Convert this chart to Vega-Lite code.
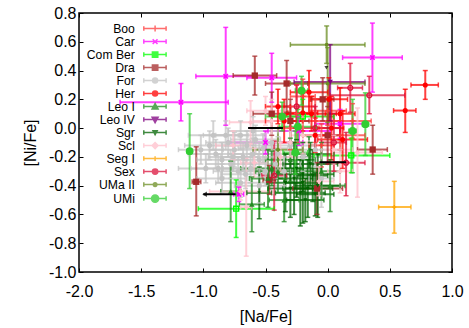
{
"$schema": "https://vega.github.io/schema/vega-lite/v6.json",
"width": 373, "height": 259,
"autosize": "none",
"padding": {"left": 79, "top": 13, "right": 17, "bottom": 56},
"background": "white",
"config": {"view": {"stroke": "#000", "strokeWidth": 1.5}, "font": "Liberation Sans"},
"data": {"values": [
{"g":"Boo","x":-0.2,"y":0.22,"xl":-0.3,"xh":-0.1,"yl":0.1,"yh":0.34},
{"g":"Boo","x":-0.1,"y":0.05,"xl":-0.3,"xh":0.1,"yl":-0.1,"yh":0.2},
{"g":"Boo","x":0.0,"y":0.12,"xl":-0.15,"xh":0.15,"yl":0.02,"yh":0.22},
{"g":"Boo","x":-0.3,"y":0.0,"xl":-0.4,"xh":-0.2,"yl":-0.15,"yh":0.15},
{"g":"Boo","x":0.1,"y":-0.05,"xl":-0.1,"xh":0.3,"yl":-0.15,"yh":0.05},
{"g":"Boo","x":-0.05,"y":-0.12,"xl":-0.15,"xh":0.05,"yl":-0.27,"yh":0.03},
{"g":"Boo","x":0.2,"y":0.05,"xl":0.05,"xh":0.35,"yl":-0.07,"yh":0.17},
{"g":"Boo","x":-0.25,"y":0.1,"xl":-0.4,"xh":-0.1,"yl":-0.1,"yh":0.3},
{"g":"Car","x":-0.82,"y":0.36,"xl":-1.06,"xh":-0.58,"yl":0.02,"yh":0.7},
{"g":"Car","x":-0.45,"y":0.35,"xl":-0.65,"xh":-0.25,"yl":0.18,"yh":0.52},
{"g":"Car","x":-1.18,"y":0.18,"xl":-1.67,"xh":-0.8,"yl":0.05,"yh":0.31},
{"g":"Car","x":0.36,"y":0.49,"xl":0.12,"xh":0.6,"yl":0.25,"yh":0.73},
{"g":"Car","x":-0.715,"y":-0.46,"xl":-0.755,"xh":-0.675,"yl":-0.51,"yh":-0.41},
{"g":"Car","x":-0.23,"y":-0.02,"xl":-0.48,"xh":0.02,"yl":-0.12,"yh":0.08},
{"g":"Car","x":-0.5,"y":-0.1,"xl":-0.8,"xh":-0.2,"yl":-0.18,"yh":-0.02},
{"g":"Car","x":0.1,"y":0.03,"xl":-0.1,"xh":0.3,"yl":-0.07,"yh":0.13},
{"g":"Com Ber","x":-0.736,"y":-0.56,"xl":-1.04,"xh":-0.43,"yl":-0.76,"yh":-0.36},
{"g":"Com Ber","x":0.19,"y":-0.19,"xl":-0.11,"xh":0.5,"yl":-0.31,"yh":-0.07},
{"g":"Com Ber","x":-0.2,"y":0.08,"xl":-0.45,"xh":0.05,"yl":-0.05,"yh":0.2},
{"g":"Dra","x":-0.586,"y":0.365,"xl":-0.76,"xh":-0.41,"yl":0.23,"yh":0.5},
{"g":"Dra","x":-0.33,"y":0.31,"xl":-0.5,"xh":-0.16,"yl":0.11,"yh":0.47},
{"g":"Dra","x":-1.057,"y":-0.373,"xl":-1.09,"xh":-1.02,"yl":-0.61,"yh":-0.13},
{"g":"Dra","x":0.362,"y":-0.149,"xl":0.24,"xh":0.48,"yl":-0.32,"yh":0.02},
{"g":"Dra","x":-0.04,"y":0.2,"xl":-0.13,"xh":0.05,"yl":0.05,"yh":0.35},
{"g":"Dra","x":-0.3,"y":0.05,"xl":-0.45,"xh":-0.15,"yl":-0.1,"yh":0.2},
{"g":"Dra","x":-0.47,"y":-0.36,"xl":-0.52,"xh":-0.42,"yl":-0.46,"yh":-0.26},
{"g":"Dra","x":-0.085,"y":-0.42,"xl":-0.28,"xh":0.12,"yl":-0.6,"yh":-0.24},
{"g":"Dra","x":-0.45,"y":0.1,"xl":-0.6,"xh":-0.3,"yl":-0.05,"yh":0.25},
{"g":"Dra","x":0.0,"y":-0.05,"xl":-0.1,"xh":0.1,"yl":-0.25,"yh":0.15},
{"g":"For","x":-0.95,"y":-0.12,"xl":-1.15,"xh":-0.75,"yl":-0.22,"yh":-0.02},
{"g":"For","x":-0.9,"y":-0.18,"xl":-1.12,"xh":-0.68,"yl":-0.28,"yh":-0.08},
{"g":"For","x":-0.85,"y":-0.22,"xl":-1.05,"xh":-0.65,"yl":-0.34,"yh":-0.1},
{"g":"For","x":-0.8,"y":-0.1,"xl":-0.98,"xh":-0.62,"yl":-0.2,"yh":0.0},
{"g":"For","x":-0.78,"y":-0.25,"xl":-0.98,"xh":-0.58,"yl":-0.35,"yh":-0.15},
{"g":"For","x":-0.75,"y":-0.15,"xl":-0.95,"xh":-0.55,"yl":-0.27,"yh":-0.03},
{"g":"For","x":-0.72,"y":-0.3,"xl":-0.92,"xh":-0.52,"yl":-0.4,"yh":-0.2},
{"g":"For","x":-0.7,"y":-0.05,"xl":-0.9,"xh":-0.5,"yl":-0.15,"yh":0.05},
{"g":"For","x":-0.68,"y":-0.2,"xl":-0.86,"xh":-0.5,"yl":-0.3,"yh":-0.1},
{"g":"For","x":-0.65,"y":-0.12,"xl":-0.85,"xh":-0.45,"yl":-0.22,"yh":-0.02},
{"g":"For","x":-0.62,"y":-0.28,"xl":-0.84,"xh":-0.4,"yl":-0.38,"yh":-0.18},
{"g":"For","x":-0.6,"y":-0.18,"xl":-0.8,"xh":-0.4,"yl":-0.29,"yh":-0.07},
{"g":"For","x":-0.58,"y":-0.08,"xl":-0.78,"xh":-0.38,"yl":-0.18,"yh":0.02},
{"g":"For","x":-0.55,"y":-0.22,"xl":-0.75,"xh":-0.35,"yl":-0.34,"yh":-0.1},
{"g":"For","x":-0.52,"y":-0.14,"xl":-0.72,"xh":-0.32,"yl":-0.24,"yh":-0.04},
{"g":"For","x":-0.5,"y":-0.3,"xl":-0.7,"xh":-0.3,"yl":-0.4,"yh":-0.2},
{"g":"For","x":-0.88,"y":-0.28,"xl":-1.1,"xh":-0.66,"yl":-0.38,"yh":-0.18},
{"g":"For","x":-0.98,"y":-0.28,"xl":-1.2,"xh":-0.76,"yl":-0.38,"yh":-0.18},
{"g":"For","x":-0.82,"y":-0.05,"xl":-1.0,"xh":-0.64,"yl":-0.15,"yh":0.05},
{"g":"For","x":-0.7,"y":-0.38,"xl":-0.9,"xh":-0.5,"yl":-0.48,"yh":-0.28},
{"g":"For","x":-0.45,"y":-0.1,"xl":-0.65,"xh":-0.25,"yl":-0.2,"yh":0.0},
{"g":"For","x":-0.42,"y":-0.25,"xl":-0.62,"xh":-0.22,"yl":-0.35,"yh":-0.15},
{"g":"For","x":-0.4,"y":-0.18,"xl":-0.62,"xh":-0.18,"yl":-0.3,"yh":-0.06},
{"g":"For","x":-0.92,"y":-0.05,"xl":-1.12,"xh":-0.72,"yl":-0.15,"yh":0.05},
{"g":"For","x":-0.76,"y":-0.2,"xl":-0.96,"xh":-0.56,"yl":-0.3,"yh":-0.1},
{"g":"For","x":-0.66,"y":-0.32,"xl":-0.86,"xh":-0.46,"yl":-0.42,"yh":-0.22},
{"g":"For","x":-0.6,"y":-0.02,"xl":-0.8,"xh":-0.4,"yl":-0.12,"yh":0.08},
{"g":"For","x":-0.35,"y":-0.3,"xl":-0.55,"xh":-0.15,"yl":-0.4,"yh":-0.2},
{"g":"For","x":-0.05,"y":-0.35,"xl":-0.15,"xh":0.05,"yl":-0.55,"yh":-0.15},
{"g":"For","x":-0.3,"y":-0.12,"xl":-0.5,"xh":-0.1,"yl":-0.22,"yh":-0.02},
{"g":"For","x":-1.02,"y":-0.15,"xl":-1.2,"xh":-0.84,"yl":-0.25,"yh":-0.05},
{"g":"For","x":-0.85,"y":-0.35,"xl":-1.05,"xh":-0.65,"yl":-0.45,"yh":-0.25},
{"g":"For","x":-0.2,"y":-0.2,"xl":-0.35,"xh":-0.05,"yl":-0.3,"yh":-0.1},
{"g":"For","x":-0.1,"y":-0.15,"xl":-0.3,"xh":0.1,"yl":-0.27,"yh":-0.03},
{"g":"For","x":-0.55,"y":-0.4,"xl":-0.75,"xh":-0.35,"yl":-0.52,"yh":-0.28},
{"g":"Her","x":0.785,"y":0.3,"xl":0.67,"xh":0.89,"yl":0.2,"yh":0.4},
{"g":"Her","x":0.624,"y":0.122,"xl":0.53,"xh":0.71,"yl":-0.03,"yh":0.27},
{"g":"Her","x":-0.2,"y":0.106,"xl":-0.32,"xh":-0.08,"yl":-0.02,"yh":0.24},
{"g":"Her","x":0.01,"y":0.2,"xl":-0.14,"xh":0.16,"yl":0.05,"yh":0.35},
{"g":"Her","x":-0.13,"y":0.1,"xl":-0.33,"xh":0.07,"yl":-0.02,"yh":0.22},
{"g":"Her","x":0.03,"y":0.0,"xl":-0.07,"xh":0.13,"yl":-0.22,"yh":0.22},
{"g":"Her","x":-0.35,"y":0.05,"xl":-0.5,"xh":-0.2,"yl":-0.1,"yh":0.2},
{"g":"Her","x":-0.1,"y":-0.05,"xl":-0.2,"xh":0.0,"yl":-0.17,"yh":0.07},
{"g":"Her","x":0.1,"y":0.1,"xl":-0.02,"xh":0.22,"yl":-0.08,"yh":0.28},
{"g":"Her","x":-0.4,"y":0.15,"xl":-0.5,"xh":-0.3,"yl":0.03,"yh":0.27},
{"g":"Her","x":-0.15,"y":0.25,"xl":-0.3,"xh":0.0,"yl":0.1,"yh":0.4},
{"g":"Her","x":0.12,"y":-0.08,"xl":-0.08,"xh":0.32,"yl":-0.28,"yh":0.12},
{"g":"Leo I","x":-0.78,"y":-0.44,"xl":-0.86,"xh":-0.7,"yl":-0.65,"yh":-0.23},
{"g":"Leo I","x":-0.61,"y":-0.53,"xl":-0.71,"xh":-0.51,"yl":-0.72,"yh":-0.34},
{"g":"Leo I","x":-0.48,"y":-0.35,"xl":-0.63,"xh":-0.33,"yl":-0.55,"yh":-0.15},
{"g":"Leo I","x":-0.4,"y":-0.3,"xl":-0.58,"xh":-0.22,"yl":-0.45,"yh":-0.15},
{"g":"Leo I","x":-0.3,"y":-0.22,"xl":-0.5,"xh":-0.1,"yl":-0.37,"yh":-0.07},
{"g":"Leo I","x":-0.05,"y":-0.3,"xl":-0.2,"xh":0.1,"yl":-0.5,"yh":-0.1},
{"g":"Leo I","x":-0.15,"y":-0.18,"xl":-0.35,"xh":0.05,"yl":-0.3,"yh":-0.06},
{"g":"Leo I","x":0.02,"y":-0.4,"xl":-0.1,"xh":0.14,"yl":-0.58,"yh":-0.22},
{"g":"Leo I","x":-0.35,"y":-0.5,"xl":-0.47,"xh":-0.23,"yl":-0.65,"yh":-0.35},
{"g":"Leo I","x":-0.45,"y":-0.28,"xl":-0.7,"xh":-0.2,"yl":-0.4,"yh":-0.16},
{"g":"Leo IV","x":0.02,"y":0.32,"xl":-0.27,"xh":0.3,"yl":0.05,"yh":0.58},
{"g":"Sgr","x":-0.34,"y":-0.38,"xl":-0.49,"xh":-0.19,"yl":-0.58,"yh":-0.18},
{"g":"Sgr","x":-0.3,"y":-0.42,"xl":-0.48,"xh":-0.12,"yl":-0.62,"yh":-0.22},
{"g":"Sgr","x":-0.27,"y":-0.35,"xl":-0.42,"xh":-0.12,"yl":-0.6,"yh":-0.1},
{"g":"Sgr","x":-0.22,"y":-0.45,"xl":-0.42,"xh":-0.02,"yl":-0.68,"yh":-0.22},
{"g":"Sgr","x":-0.2,"y":-0.38,"xl":-0.35,"xh":-0.05,"yl":-0.66,"yh":-0.1},
{"g":"Sgr","x":-0.18,"y":-0.5,"xl":-0.33,"xh":-0.03,"yl":-0.65,"yh":-0.35},
{"g":"Sgr","x":-0.16,"y":-0.42,"xl":-0.36,"xh":0.04,"yl":-0.62,"yh":-0.22},
{"g":"Sgr","x":-0.12,"y":-0.33,"xl":-0.24,"xh":0.0,"yl":-0.51,"yh":-0.15},
{"g":"Sgr","x":-0.1,"y":-0.46,"xl":-0.25,"xh":0.05,"yl":-0.61,"yh":-0.31},
{"g":"Sgr","x":-0.08,"y":-0.4,"xl":-0.26,"xh":0.1,"yl":-0.62,"yh":-0.18},
{"g":"Sgr","x":-0.25,"y":-0.28,"xl":-0.45,"xh":-0.05,"yl":-0.48,"yh":-0.08},
{"g":"Sgr","x":-0.55,"y":-0.45,"xl":-0.65,"xh":-0.45,"yl":-0.63,"yh":-0.27},
{"g":"Sgr","x":-0.14,"y":-0.25,"xl":-0.36,"xh":0.08,"yl":-0.4,"yh":-0.1},
{"g":"Sgr","x":-0.2,"y":-0.32,"xl":-0.45,"xh":0.05,"yl":-0.44,"yh":-0.2},
{"g":"Scl","x":-0.76,"y":-0.12,"xl":-0.9,"xh":-0.62,"yl":-0.22,"yh":-0.02},
{"g":"Scl","x":-0.62,"y":0.04,"xl":-0.79,"xh":-0.45,"yl":-0.11,"yh":0.19},
{"g":"Scl","x":-0.59,"y":-0.24,"xl":-0.7,"xh":-0.48,"yl":-0.34,"yh":-0.14},
{"g":"Scl","x":-0.655,"y":-0.55,"xl":-0.7,"xh":-0.61,"yl":-0.89,"yh":-0.21},
{"g":"Scl","x":-0.7,"y":-0.44,"xl":-0.95,"xh":-0.44,"yl":-0.5,"yh":-0.38},
{"g":"Scl","x":0.24,"y":-0.17,"xl":0.04,"xh":0.44,"yl":-0.48,"yh":0.14},
{"g":"Scl","x":-0.07,"y":-0.37,"xl":-0.19,"xh":0.05,"yl":-0.47,"yh":-0.27},
{"g":"Scl","x":-0.45,"y":0.05,"xl":-0.6,"xh":-0.3,"yl":-0.1,"yh":0.2},
{"g":"Scl","x":-0.3,"y":-0.1,"xl":-0.45,"xh":-0.15,"yl":-0.2,"yh":0.0},
{"g":"Scl","x":-0.2,"y":-0.05,"xl":-0.3,"xh":-0.05,"yl":-0.18,"yh":0.1},
{"g":"Scl","x":0.05,"y":-0.15,"xl":-0.05,"xh":0.2,"yl":-0.25,"yh":-0.05},
{"g":"Scl","x":-0.38,"y":-0.2,"xl":-0.5,"xh":-0.26,"yl":-0.3,"yh":-0.1},
{"g":"Scl","x":0.1,"y":-0.3,"xl":0.0,"xh":0.2,"yl":-0.45,"yh":-0.15},
{"g":"Scl","x":-0.5,"y":0.12,"xl":-0.65,"xh":-0.35,"yl":0.02,"yh":0.22},
{"g":"Seg I","x":0.536,"y":-0.549,"xl":0.41,"xh":0.67,"yl":-0.73,"yh":-0.37},
{"g":"Sex","x":0.182,"y":0.28,"xl":0.08,"xh":0.28,"yl":0.11,"yh":0.45},
{"g":"Sex","x":0.335,"y":0.228,"xl":0.02,"xh":0.62,"yl":0.1,"yh":0.36},
{"g":"Sex","x":0.148,"y":-0.24,"xl":0.0,"xh":0.3,"yl":-0.47,"yh":-0.03},
{"g":"Sex","x":-0.43,"y":-0.33,"xl":-0.53,"xh":-0.33,"yl":-0.57,"yh":-0.09},
{"g":"Sex","x":-0.1,"y":0.0,"xl":-0.3,"xh":0.1,"yl":-0.15,"yh":0.15},
{"g":"Sex","x":0.05,"y":-0.1,"xl":-0.05,"xh":0.15,"yl":-0.3,"yh":0.1},
{"g":"Sex","x":-0.25,"y":0.15,"xl":-0.4,"xh":-0.1,"yl":0.0,"yh":0.3},
{"g":"UMa II","x":-0.008,"y":0.58,"xl":-0.3,"xh":0.3,"yl":0.45,"yh":0.71},
{"g":"UMa II","x":0.0,"y":0.31,"xl":-0.3,"xh":0.3,"yl":0.04,"yh":0.56},
{"g":"UMa II","x":-0.4,"y":-0.15,"xl":-0.6,"xh":-0.2,"yl":-0.3,"yh":0.0},
{"g":"UMi","x":-1.11,"y":-0.16,"xl":-1.13,"xh":-1.09,"yl":-0.42,"yh":0.1},
{"g":"UMi","x":0.303,"y":0.027,"xl":0.28,"xh":0.33,"yl":-0.19,"yh":0.245},
{"g":"UMi","x":0.2,"y":-0.02,"xl":0.17,"xh":0.23,"yl":-0.31,"yh":0.2},
{"g":"UMi","x":-0.21,"y":0.26,"xl":-0.26,"xh":-0.16,"yl":0.16,"yh":0.36},
{"g":"UMi","x":-0.366,"y":0.08,"xl":-0.5,"xh":-0.23,"yl":-0.02,"yh":0.18},
{"g":"UMi","x":-0.24,"y":0.01,"xl":-0.39,"xh":-0.09,"yl":-0.11,"yh":0.13},
{"g":"UMi","x":-0.26,"y":-0.17,"xl":-0.36,"xh":-0.16,"yl":-0.32,"yh":-0.02}
]},
"encoding": {
  "color": {"field": "g", "type": "nominal",
    "scale": {"domain": ["Boo","Car","Com Ber","Dra","For","Her","Leo I","Leo IV","Sgr","Scl","Seg I","Sex","UMa II","UMi"],
              "range": ["#ff3b3b","#ff00ff","#00ff00","#a52a2a","#c4c4c4","#ff0000","#228b22","#800080","#006400","#ffc0cb","#ffa500","#dc143c","#6b8e23","#32cd32"]},
    "legend": {"orient": "none", "legendX": 1, "legendY": 9.5, "title": null, "padding": 0, "offset": 0,
      "labelAlign": "right", "labelOffset": 42.7, "labelFont": "Liberation Sans", "labelFontSize": 12.2, "labelColor": "#000",
      "symbolSize": 100, "rowPadding": 0, "labelLimit": 200,
      "symbolType": {"expr": "['M-1,0L-1,0M11.54,0H16M11.54,-0.45V0.45M16,-0.45V0.45M13.2,0H14.4M13.8,-0.6V0.6','M-1,0L-1,0M11.54,0H16M11.54,-0.45V0.45M16,-0.45V0.45M13.32,-0.48L14.28,0.48M13.32,0.48L14.28,-0.48','M-1,0L-1,0M11.54,0H16M11.54,-0.45V0.45M16,-0.45V0.45M13.26,-0.54H14.34V0.54H13.26ZM13.5,-0.3V0.3H14.1V-0.3Z','M-1,0L-1,0M11.54,0H16M11.54,-0.45V0.45M16,-0.45V0.45M13.26,-0.54H14.34V0.54H13.26Z','M-1,0L-1,0M11.54,0H16M11.54,-0.45V0.45M16,-0.45V0.45M13.3,0A0.5,0.5 0 1,0 14.3,0A0.5,0.5 0 1,0 13.3,0Z','M-1,0L-1,0M11.54,0H16M11.54,-0.45V0.45M16,-0.45V0.45M13.3,0A0.5,0.5 0 1,0 14.3,0A0.5,0.5 0 1,0 13.3,0Z','M-1,0L-1,0M11.54,0H16M11.54,-0.45V0.45M16,-0.45V0.45M13.8,-0.6L14.4,0.48H13.2Z','M-1,0L-1,0M11.54,0H16M11.54,-0.45V0.45M16,-0.45V0.45M13.8,0.6L14.4,-0.48H13.2Z','M-1,0L-1,0M11.54,0H16M11.54,-0.45V0.45M16,-0.45V0.45M13.8,0.42L14.22,-0.36H13.38Z','M-1,0L-1,0M11.54,0H16M11.54,-0.45V0.45M16,-0.45V0.45M13.8,-0.6L14.4,0L13.8,0.6L13.2,0Z','M-1,0L-1,0M11.54,0H16M11.54,-0.45V0.45M16,-0.45V0.45M13.32,0H14.28M13.8,-0.48V0.48','M-1,0L-1,0M11.54,0H16M11.54,-0.45V0.45M16,-0.45V0.45M13.26,0A0.54,0.54 0 1,0 14.34,0A0.54,0.54 0 1,0 13.26,0ZM13.5,0A0.3,0.3 0 1,1 14.1,0A0.3,0.3 0 1,1 13.5,0Z','M-1,0L-1,0M11.54,0H16M11.54,-0.45V0.45M16,-0.45V0.45M13.44,0A0.36,0.36 0 1,0 14.16,0A0.36,0.36 0 1,0 13.44,0Z','M-1,0L-1,0M11.54,0H16M11.54,-0.45V0.45M16,-0.45V0.45M13.08,0A0.72,0.72 0 1,0 14.52,0A0.72,0.72 0 1,0 13.08,0Z'][indexof(['Boo','Car','Com Ber','Dra','For','Her','Leo I','Leo IV','Sgr','Scl','Seg I','Sex','UMa II','UMi'], datum.value)]"},
      "symbolStrokeWidth": 1.5,
      "symbolFillColor": {"expr": "scale('color', datum.value)"},
      "symbolStrokeColor": {"expr": "scale('color', datum.value)"}
    }
  }
},
"layer": [
  {"mark": {"type": "rule", "strokeWidth": 2, "opacity": 0.75},
   "encoding": {
     "x": {"field": "xl", "type": "quantitative", "scale": {"domain": [-2, 1], "nice": false, "zero": false},
       "axis": {"orient": "bottom", "values": [-2,-1.5,-1,-0.5,0,0.5,1], "labelExpr": "replace(format(datum.value, '.1f'), '\u2212', '-')",
         "tickSize": -4, "tickColor": "#000", "domain": false, "grid": false, "labelFont": "Liberation Sans", "labelFontSize": 16, "labelColor": "#000",
         "labelPadding": 15, "labelFlush": false, "labelOverlap": false, "labelBound": false,
         "title": "[Na/Fe]", "titleFont": "Liberation Sans", "titleFontSize": 16, "titleFontWeight": "normal", "titleColor": "#000", "titlePadding": 9}},
     "x2": {"field": "xh"},
     "y": {"field": "y", "type": "quantitative", "scale": {"domain": [-1, 0.8], "nice": false, "zero": false},
       "axis": {"orient": "left", "values": [-1,-0.8,-0.6,-0.4,-0.2,0,0.2,0.4,0.6,0.8], "labelExpr": "replace(format(datum.value, '.1f'), '\u2212', '-')",
         "tickSize": -4, "tickColor": "#000", "domain": false, "grid": false, "labelFont": "Liberation Sans", "labelFontSize": 16, "labelColor": "#000",
         "labelPadding": 7, "labelFlush": false, "labelOverlap": false, "labelBound": false,
         "title": "[Ni/Fe]", "titleFont": "Liberation Sans", "titleFontSize": 16, "titleFontWeight": "normal", "titleColor": "#000", "titlePadding": 10}}
   }},
  {"mark": {"type": "rule", "strokeWidth": 2, "opacity": 0.75},
   "encoding": {
     "x": {"field": "x", "type": "quantitative",
       "axis": {"orient": "top", "values": [-2,-1.5,-1,-0.5,0,0.5,1], "labels": false, "tickSize": -4, "tickColor": "#000", "domain": false, "grid": false, "title": null}},
     "y": {"field": "yl", "type": "quantitative",
       "axis": {"orient": "right", "values": [-1,-0.8,-0.6,-0.4,-0.2,0,0.2,0.4,0.6,0.8], "labels": false, "tickSize": -4, "tickColor": "#000", "domain": false, "grid": false, "title": null}},
     "y2": {"field": "yh"}
   }},
  {"mark": {"type": "tick", "orient": "vertical", "size": 5, "thickness": 1.5, "opacity": 0.75},
   "encoding": {"x": {"field": "xl", "type": "quantitative", "axis": null}, "y": {"field": "y", "type": "quantitative", "axis": null}}},
  {"mark": {"type": "tick", "orient": "vertical", "size": 5, "thickness": 1.5, "opacity": 0.75},
   "encoding": {"x": {"field": "xh", "type": "quantitative", "axis": null}, "y": {"field": "y", "type": "quantitative", "axis": null}}},
  {"mark": {"type": "tick", "orient": "horizontal", "size": 5, "thickness": 1.5, "opacity": 0.75},
   "encoding": {"x": {"field": "x", "type": "quantitative", "axis": null}, "y": {"field": "yl", "type": "quantitative", "axis": null}}},
  {"mark": {"type": "tick", "orient": "horizontal", "size": 5, "thickness": 1.5, "opacity": 0.75},
   "encoding": {"x": {"field": "x", "type": "quantitative", "axis": null}, "y": {"field": "yh", "type": "quantitative", "axis": null}}},
  {"transform": [{"filter": {"field": "g", "oneOf": ["Boo"]}}],
   "mark": {"type": "point", "filled": false, "opacity": 1, "strokeWidth": 1.3, "shape": "M-1,0H1M0,-1V1", "size": 30},
   "encoding": {"x": {"field": "x", "type": "quantitative", "axis": null}, "y": {"field": "y", "type": "quantitative", "axis": null}}},
  {"transform": [{"filter": {"field": "g", "oneOf": ["Car"]}}],
   "mark": {"type": "point", "filled": false, "opacity": 1, "strokeWidth": 1.6, "shape": "M-0.8,-0.8L0.8,0.8M-0.8,0.8L0.8,-0.8", "size": 30},
   "encoding": {"x": {"field": "x", "type": "quantitative", "axis": null}, "y": {"field": "y", "type": "quantitative", "axis": null}}},
  {"transform": [{"filter": {"field": "g", "oneOf": ["Com Ber"]}}],
   "mark": {"type": "point", "filled": true, "opacity": 1, "shape": "M-1,-1H1V1H-1ZM-0.55,-0.55V0.55H0.55V-0.55Z", "size": 40},
   "encoding": {"x": {"field": "x", "type": "quantitative", "axis": null}, "y": {"field": "y", "type": "quantitative", "axis": null}}},
  {"transform": [{"filter": {"field": "g", "oneOf": ["Dra"]}}],
   "mark": {"type": "point", "filled": true, "opacity": 1, "shape": "square", "size": 40},
   "encoding": {"x": {"field": "x", "type": "quantitative", "axis": null}, "y": {"field": "y", "type": "quantitative", "axis": null}}},
  {"transform": [{"filter": {"field": "g", "oneOf": ["For", "Her"]}}],
   "mark": {"type": "point", "filled": true, "opacity": 1, "shape": "circle", "size": 26},
   "encoding": {"x": {"field": "x", "type": "quantitative", "axis": null}, "y": {"field": "y", "type": "quantitative", "axis": null}}},
  {"transform": [{"filter": {"field": "g", "oneOf": ["Leo I"]}}],
   "mark": {"type": "point", "filled": true, "opacity": 1, "shape": "triangle-up", "size": 30},
   "encoding": {"x": {"field": "x", "type": "quantitative", "axis": null}, "y": {"field": "y", "type": "quantitative", "axis": null}}},
  {"transform": [{"filter": {"field": "g", "oneOf": ["Leo IV"]}}],
   "mark": {"type": "point", "filled": true, "opacity": 1, "shape": "triangle-down", "size": 30},
   "encoding": {"x": {"field": "x", "type": "quantitative", "axis": null}, "y": {"field": "y", "type": "quantitative", "axis": null}}},
  {"transform": [{"filter": {"field": "g", "oneOf": ["Sgr"]}}],
   "mark": {"type": "point", "filled": true, "opacity": 1, "shape": "triangle-down", "size": 16},
   "encoding": {"x": {"field": "x", "type": "quantitative", "axis": null}, "y": {"field": "y", "type": "quantitative", "axis": null}}},
  {"transform": [{"filter": {"field": "g", "oneOf": ["Scl"]}}],
   "mark": {"type": "point", "filled": true, "opacity": 1, "shape": "diamond", "size": 28},
   "encoding": {"x": {"field": "x", "type": "quantitative", "axis": null}, "y": {"field": "y", "type": "quantitative", "axis": null}}},
  {"transform": [{"filter": {"field": "g", "oneOf": ["Seg I"]}}],
   "mark": {"type": "point", "filled": false, "opacity": 1, "strokeWidth": 1.3, "shape": "M-1,0H1M0,-1V1", "size": 16},
   "encoding": {"x": {"field": "x", "type": "quantitative", "axis": null}, "y": {"field": "y", "type": "quantitative", "axis": null}}},
  {"transform": [{"filter": {"field": "g", "oneOf": ["Sex"]}}],
   "mark": {"type": "point", "filled": true, "opacity": 1, "shape": "M-1,0A1,1 0 1,0 1,0A1,1 0 1,0 -1,0ZM-0.55,0A0.55,0.55 0 1,1 0.55,0A0.55,0.55 0 1,1 -0.55,0Z", "size": 40},
   "encoding": {"x": {"field": "x", "type": "quantitative", "axis": null}, "y": {"field": "y", "type": "quantitative", "axis": null}}},
  {"transform": [{"filter": {"field": "g", "oneOf": ["UMa II"]}}],
   "mark": {"type": "point", "filled": true, "opacity": 1, "shape": "circle", "size": 14},
   "encoding": {"x": {"field": "x", "type": "quantitative", "axis": null}, "y": {"field": "y", "type": "quantitative", "axis": null}}},
  {"transform": [{"filter": {"field": "g", "oneOf": ["UMi"]}}],
   "mark": {"type": "point", "filled": true, "opacity": 1, "shape": "circle", "size": 60},
   "encoding": {"x": {"field": "x", "type": "quantitative", "axis": null}, "y": {"field": "y", "type": "quantitative", "axis": null}}},
  {"data": {"values": [{"y": -0.46, "xl": -1.0, "xh": -0.74}, {"y": 0.0, "xl": -0.64, "xh": -0.36}, {"y": -0.237, "xl": -0.067, "xh": 0.148}]},
   "mark": {"type": "rule", "strokeWidth": 2},
   "encoding": {"x": {"field": "xl", "type": "quantitative", "axis": null}, "x2": {"field": "xh"}, "y": {"field": "y", "type": "quantitative", "axis": null}, "color": {"value": "#000"}}},
  {"data": {"values": [{"x": -0.99, "y": -0.46}]},
   "mark": {"type": "point", "filled": true, "shape": "triangle-left", "size": 30},
   "encoding": {"x": {"field": "x", "type": "quantitative", "axis": null}, "y": {"field": "y", "type": "quantitative", "axis": null}, "color": {"value": "#000"}}},
  {"data": {"values": [{"x": -0.01, "y": 0.42}]},
   "mark": {"type": "point", "filled": true, "shape": "triangle-down", "size": 16},
   "encoding": {"x": {"field": "x", "type": "quantitative", "axis": null}, "y": {"field": "y", "type": "quantitative", "axis": null}, "color": {"value": "#000"}}}
],
"resolve": {"axis": {"x": "independent", "y": "independent"}}
}
